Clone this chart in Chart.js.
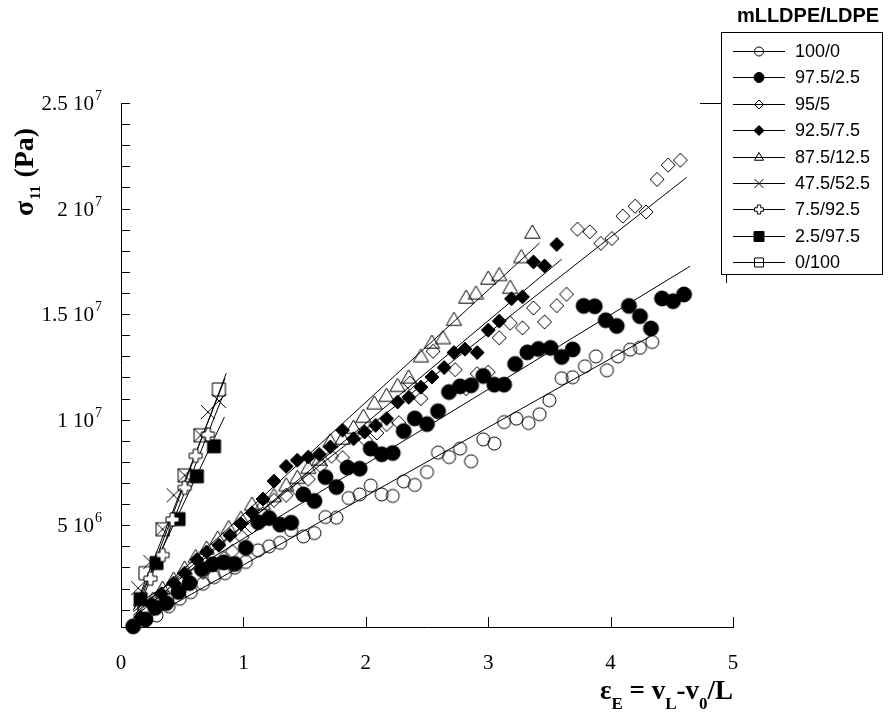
<!DOCTYPE html>
<html>
<head>
<meta charset="utf-8">
<script src="https://cdn.jsdelivr.net/npm/chart.js"></script>
<style>
  body { margin: 0; background: #fff; }
  #wrap { width: 889px; height: 720px; }
</style>
</head>
<body>
<div id="wrap"><canvas id="graphe" width="889" height="720"></canvas></div>
<script>
// taux de deformation (x) / contrainte sigma_11 en unites de 10^6 Pa (y)
const melanges = ['100/0', '97.5/2.5', '95/5', '92.5/7.5', '87.5/12.5', '47.5/52.5', '7.5/92.5', '2.5/97.5', '0/100'];

const eps_100_0 = [0.29,0.39,0.48,0.57,0.67,0.76,0.85,0.93,1.02,1.12,1.21,1.30,1.39,1.49,1.58,1.67,1.76,1.86,1.95,2.04,2.13,2.22,2.31,2.40,2.50,2.59,2.68,2.77,2.86,2.96,3.05,3.13,3.23,3.33,3.42,3.50,3.60,3.69,3.79,3.88,3.97,4.06,4.16,4.24,4.34];
const sig_100_0 = [0.73,1.16,1.52,1.83,2.23,2.54,2.73,2.99,3.26,3.81,4.00,4.17,4.76,4.47,4.63,5.39,5.36,6.29,6.46,6.88,6.46,6.39,7.08,6.91,7.52,8.44,8.23,8.63,8.03,9.07,8.87,9.89,10.05,9.84,10.26,10.92,11.96,12.01,12.53,13.00,12.34,13.00,13.32,13.41,13.68];

const eps_97_5 = [0.10,0.20,0.28,0.37,0.47,0.56,0.66,0.75,0.84,0.93,1.02,1.12,1.21,1.30,1.39,1.49,1.58,1.67,1.76,1.85,1.95,2.04,2.13,2.22,2.31,2.40,2.50,2.59,2.68,2.77,2.86,2.96,3.05,3.13,3.22,3.32,3.41,3.51,3.60,3.69,3.78,3.87,3.96,4.05,4.15,4.24,4.33,4.42,4.51,4.60];
const sig_97_5 = [0.21,0.54,1.09,1.31,1.84,2.26,2.92,3.15,3.24,3.17,3.93,5.15,5.34,5.03,5.12,6.46,6.15,7.28,6.81,7.73,7.68,8.63,8.36,8.42,9.46,10.06,9.79,10.40,11.31,11.58,11.63,12.07,11.66,11.66,12.64,13.19,13.35,13.40,12.97,13.33,15.39,15.37,14.71,14.44,15.39,14.90,14.32,15.74,15.61,15.93];

const eps_95_5 = [0.20,0.29,0.38,0.48,0.57,0.67,0.76,0.84,0.91,0.99,1.07,1.16,1.25,1.35,1.44,1.53,1.63,1.72,1.81,2.00,2.09,2.17,2.27,2.36,2.45,2.55,2.73,2.82,2.91,3.00,3.09,3.18,3.28,3.37,3.46,3.56,3.64,3.73,3.83,3.92,4.01,4.10,4.20,4.29,4.38,4.47,4.57];
const sig_95_5 = [0.87,1.30,1.58,1.96,2.29,2.77,3.19,3.43,3.76,4.43,4.92,5.55,6.18,6.42,6.69,7.18,7.81,8.27,8.20,9.02,9.37,9.77,9.86,11.73,11.00,13.24,12.37,11.47,12.18,12.25,13.88,14.57,14.35,15.29,14.63,15.40,15.94,19.02,18.90,18.35,18.58,19.64,20.11,19.84,21.38,22.06,22.29];

const eps_92_5 = [0.16,0.25,0.33,0.43,0.52,0.62,0.70,0.80,0.89,0.98,1.07,1.16,1.25,1.35,1.44,1.53,1.62,1.71,1.81,1.90,1.99,2.08,2.17,2.26,2.35,2.45,2.54,2.64,2.72,2.81,2.91,3.00,3.09,3.19,3.28,3.37,3.46,3.56];
const sig_92_5 = [0.65,1.28,1.76,2.26,2.73,3.37,3.73,4.05,4.52,5.06,5.59,6.24,7.09,7.79,8.08,8.23,8.36,8.71,9.50,9.10,9.42,9.73,10.05,10.84,11.06,11.54,12.02,12.47,13.18,13.34,13.18,14.24,14.67,15.73,15.82,17.47,17.28,18.30];

const eps_87_5 = [0.26,0.34,0.43,0.52,0.61,0.70,0.79,0.88,0.98,1.07,1.16,1.25,1.35,1.44,1.53,1.62,1.71,1.81,1.90,1.98,2.07,2.17,2.26,2.35,2.45,2.54,2.63,2.72,2.82,2.90,3.00,3.09,3.18,3.27,3.36];
const sig_87_5 = [1.44,1.96,2.39,2.91,3.46,3.86,4.33,4.83,5.28,5.94,5.97,6.34,6.85,7.21,7.68,8.07,8.94,9.06,9.58,10.10,10.73,11.09,11.56,11.96,12.96,13.61,13.82,14.69,15.74,15.94,16.64,16.81,16.21,17.66,18.82];

const eps_47_5 = [0.14,0.24,0.34,0.43,0.52,0.65,0.71,0.80];
const sig_47_5 = [2.02,3.26,4.81,6.42,7.36,9.26,10.36,10.89];

const eps_7_5 = [0.24,0.34,0.42,0.52,0.61,0.71];
const sig_7_5 = [2.47,3.59,5.27,6.77,8.29,9.30];

const eps_2_5 = [0.16,0.29,0.47,0.62,0.76];
const sig_2_5 = [1.50,3.21,5.29,7.32,8.74];

const eps_0_100 = [0.20,0.34,0.52,0.65,0.80];
const sig_0_100 = [2.73,4.81,7.36,9.26,11.43];

// droites de regression : extremites, meme ordre que melanges
const fitEps = [[0.12,4.38],[0.10,4.65],[0.10,4.62],[0.10,3.60],[0.10,3.42],[0.11,0.85],[0.12,0.83],[0.10,0.845],[0.13,0.86]];
const fitSig = [[0.25,14.13],[1.18,17.27],[0.90,21.47],[0.60,17.60],[0.73,18.37],[1.05,11.95],[0.70,11.10],[0.97,10.13],[1.00,12.20]];

const xTicks = [0, 1, 2, 3, 4, 5];
const yTicks = [5, 10, 15, 20, 25];

const SERIF = '"Liberation Serif", "Times New Roman", serif';
const SANS = '"Liberation Sans", Arial, sans-serif';

// dessin des symboles
function tracerSymbole(ctx, forme, x, y, r, plein) {
    ctx.beginPath();
    if (forme === 'circle') {
        ctx.arc(x, y, r, 0, Math.PI * 2);
    } else if (forme === 'diamond') {
        ctx.moveTo(x, y - r); ctx.lineTo(x + r, y); ctx.lineTo(x, y + r); ctx.lineTo(x - r, y); ctx.closePath();
    } else if (forme === 'triangle') {
        ctx.moveTo(x, y - r); ctx.lineTo(x + r * 0.9, y + r * 0.55); ctx.lineTo(x - r * 0.9, y + r * 0.55); ctx.closePath();
    } else if (forme === 'square') {
        ctx.rect(x - r, y - r, 2 * r, 2 * r);
    } else if (forme === 'cross') {
        ctx.moveTo(x - r, y - r); ctx.lineTo(x + r, y + r);
        ctx.moveTo(x + r, y - r); ctx.lineTo(x - r, y + r);
    } else if (forme === 'plus') {
        const a = r * 0.38;
        ctx.moveTo(x - a, y - r); ctx.lineTo(x + a, y - r); ctx.lineTo(x + a, y - a);
        ctx.lineTo(x + r, y - a); ctx.lineTo(x + r, y + a); ctx.lineTo(x + a, y + a);
        ctx.lineTo(x + a, y + r); ctx.lineTo(x - a, y + r); ctx.lineTo(x - a, y + a);
        ctx.lineTo(x - r, y + a); ctx.lineTo(x - r, y - a); ctx.lineTo(x - a, y - a); ctx.closePath();
    }
    ctx.lineWidth = 1;
    ctx.strokeStyle = '#000';
    if (forme !== 'cross') {
        ctx.fillStyle = plein ? '#000' : (forme === 'plus' ? '#fff' : 'rgba(0,0,0,0)');
        ctx.fill();
    }
    ctx.stroke();
}

function imageSymbole(forme, r, plein) {
    const taille = Math.ceil(r * 2 + 4);
    const c = document.createElement('canvas');
    c.width = taille; c.height = taille;
    tracerSymbole(c.getContext('2d'), forme, taille / 2, taille / 2, r, plein);
    return c;
}

const series = [
    { eps: eps_100_0, sig: sig_100_0, forme: 'circle',   plein: false, r: 6.5, rl: 4.5 },
    { eps: eps_97_5,  sig: sig_97_5,  forme: 'circle',   plein: true,  r: 7.5, rl: 5 },
    { eps: eps_95_5,  sig: sig_95_5,  forme: 'diamond',  plein: false, r: 7,   rl: 4.5 },
    { eps: eps_92_5,  sig: sig_92_5,  forme: 'diamond',  plein: true,  r: 7,   rl: 5 },
    { eps: eps_87_5,  sig: sig_87_5,  forme: 'triangle', plein: false, r: 8.5, rl: 5 },
    { eps: eps_47_5,  sig: sig_47_5,  forme: 'cross',    plein: false, r: 7,   rl: 4.5 },
    { eps: eps_7_5,   sig: sig_7_5,   forme: 'plus',     plein: false, r: 6.5, rl: 4.5 },
    { eps: eps_2_5,   sig: sig_2_5,   forme: 'square',   plein: true,  r: 6.5, rl: 5 },
    { eps: eps_0_100, sig: sig_0_100, forme: 'square',   plein: false, r: 6.5, rl: 4.5 }
];

const datasets = [];
series.forEach((s, i) => {
    datasets.push({
        label: melanges[i],
        data: s.eps.map((x, k) => ({ x: x, y: s.sig[k] })),
        pointStyle: imageSymbole(s.forme, s.r, s.plein),
        pointRadius: s.r,
        showLine: false,
        clip: false,
        order: 1
    });
    datasets.push({
        label: melanges[i] + ' fit',
        data: [{ x: fitEps[i][0], y: fitSig[i][0] }, { x: fitEps[i][1], y: fitSig[i][1] }],
        showLine: true,
        borderColor: '#000',
        borderWidth: 1,
        pointRadius: 0,
        clip: false,
        order: 2
    });
});

// ticks interieurs, etiquettes en puissances de 10, titres et legende
const decor = {
    id: 'decor',
    beforeDatasetsDraw(chart) {
        const ctx = chart.ctx;
        const xs = chart.scales.x, ys = chart.scales.y;
        const left = chart.chartArea.left, bottom = chart.chartArea.bottom;
        ctx.save();
        ctx.strokeStyle = '#000';
        ctx.lineWidth = 1;
        ctx.beginPath();
        for (let v = 1; v <= 25; v++) {
            const py = Math.round(ys.getPixelForValue(v)) + 0.5;
            ctx.moveTo(left, py); ctx.lineTo(left + 9, py);
        }
        xTicks.forEach(v => {
            if (v === 0) return;
            const px = Math.round(xs.getPixelForValue(v)) + 0.5;
            ctx.moveTo(px, bottom); ctx.lineTo(px, bottom - 10);
        });
        ctx.stroke();
        ctx.restore();
    },
    afterDraw(chart) {
        const ctx = chart.ctx;
        const ys = chart.scales.y;
        ctx.save();
        ctx.fillStyle = '#000';

        // etiquettes de l'axe y : "2.5 10^7"
        yTicks.forEach(v => {
            const val = v * 1e6;
            const exp = Math.floor(Math.log10(val) + 1e-9);
            const mant = +(val / Math.pow(10, exp)).toFixed(2);
            const py = ys.getPixelForValue(v);
            ctx.font = '21px ' + SERIF;
            const main = mant + ' 10';
            const wMain = ctx.measureText(main).width;
            ctx.font = '14px ' + SERIF;
            const wSup = ctx.measureText(String(exp)).width;
            const x0 = 101 - wSup - wMain;
            ctx.textBaseline = 'alphabetic';
            ctx.textAlign = 'left';
            ctx.font = '21px ' + SERIF;
            ctx.fillText(main, x0, py + 7);
            ctx.font = '14px ' + SERIF;
            ctx.fillText(String(exp), x0 + wMain + 1, py - 3);
        });

        // titre axe y
        ctx.save();
        ctx.translate(33, 216);
        ctx.rotate(-Math.PI / 2);
        ctx.textAlign = 'left';
        ctx.textBaseline = 'alphabetic';
        ctx.font = 'bold 28px ' + SERIF;
        ctx.fillText('\u03C3', 0, 0);
        let w = ctx.measureText('\u03C3').width;
        ctx.font = 'bold 15px ' + SERIF;
        ctx.fillText('11', w + 1, 7);
        w += ctx.measureText('11').width + 2;
        ctx.font = 'bold 28px ' + SERIF;
        ctx.fillText(' (Pa)', w, 0);
        ctx.restore();

        // titre axe x
        const morceaux = [
            ['\u03B5', 'bold 27px ', 0],
            ['E', 'bold 17px ', 10],
            [' = v', 'bold 27px ', 0],
            ['L', 'bold 17px ', 10],
            ['-v', 'bold 27px ', 0],
            ['0', 'bold 17px ', 10],
            ['/L', 'bold 27px ', 0]
        ];
        let cx = 600;
        ctx.textAlign = 'left';
        morceaux.forEach(m => {
            ctx.font = m[1] + SERIF;
            ctx.fillText(m[0], cx, 699 + m[2]);
            cx += ctx.measureText(m[0]).width;
        });

        // legende
        ctx.font = 'bold 20px ' + SANS;
        ctx.textAlign = 'center';
        ctx.fillText('mLLDPE/LDPE', 808, 22);
        ctx.lineWidth = 1;
        ctx.strokeStyle = '#000';
        ctx.strokeRect(721.5, 32.5, 161, 242);
        ctx.beginPath();
        ctx.moveTo(700, 103.5); ctx.lineTo(721, 103.5);
        ctx.moveTo(726.5, 275); ctx.lineTo(726.5, 283);
        ctx.stroke();
        ctx.font = '18px ' + SANS;
        ctx.textAlign = 'left';
        ctx.textBaseline = 'middle';
        series.forEach((s, i) => {
            const ly = Math.round(51 + 26.4 * i) + 0.5;
            ctx.beginPath();
            ctx.moveTo(733, ly); ctx.lineTo(785, ly);
            ctx.strokeStyle = '#000';
            ctx.stroke();
            tracerSymbole(ctx, s.forme, 759, ly, s.rl, s.plein);
            ctx.fillStyle = '#000';
            ctx.fillText(melanges[i], 795, ly + 1);
        });
        ctx.restore();
    }
};

new Chart(document.getElementById('graphe'), {
    type: 'scatter',
    data: { datasets: datasets },
    options: {
        responsive: false,
        animation: false,
        events: [],
        layout: { padding: { top: 103, right: 156, bottom: 0, left: 0 } },
        plugins: { legend: { display: false }, tooltip: { enabled: false } },
        scales: {
            x: {
                type: 'linear', min: 0, max: 5,
                afterFit: s => { s.height = 93; },
                afterBuildTicks: s => { s.ticks = xTicks.map(v => ({ value: v })); },
                grid: { display: false },
                border: { display: true, color: '#000', width: 1 },
                ticks: { color: '#000', font: { family: SERIF, size: 21 }, padding: 16, maxRotation: 0 }
            },
            y: {
                type: 'linear', min: 0.18, max: 25,
                afterFit: s => { s.width = 121; },
                grid: { display: false },
                border: { display: true, color: '#000', width: 1 },
                ticks: { display: false }
            }
        }
    },
    plugins: [decor]
});
</script>
</body>
</html>
